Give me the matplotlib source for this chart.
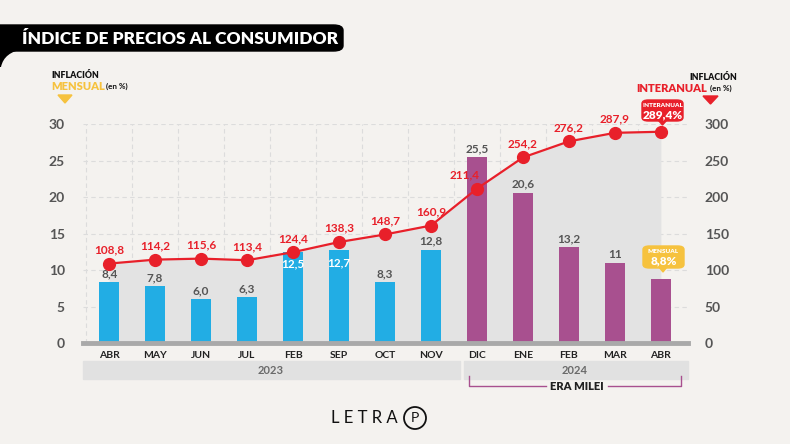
import matplotlib
matplotlib.use("Agg")
import matplotlib.pyplot as plt
from matplotlib.patches import FancyBboxPatch, Rectangle, PathPatch, Ellipse, Polygon
from matplotlib.path import Path
import numpy as np

plt.rcParams['font.family'] = ['Lato', 'DejaVu Sans']

months = ["ABR", "MAY", "JUN", "JUL", "FEB", "SEP", "OCT", "NOV", "DIC", "ENE", "FEB", "MAR", "ABR"]
mensual = [8.4, 7.8, 6.0, 6.3, 12.5, 12.7, 8.3, 12.8, 25.5, 20.6, 13.2, 11.0, 8.8]
mensual_labels = ["8,4", "7,8", "6,0", "6,3", "12,5", "12,7", "8,3", "12,8", "25,5", "20,6", "13,2", "11", ""]
interanual = [108.8, 114.2, 115.6, 113.4, 124.4, 138.3, 148.7, 160.9, 211.4, 254.2, 276.2, 287.9, 289.4]
interanual_labels = ["108,8", "114,2", "115,6", "113,4", "124,4", "138,3", "148,7", "160,9", "211,4", "254,2", "276,2", "287,9", ""]
era = ["pre"] * 8 + ["milei"] * 5
years = ["2023", "2024"]

BG = "#f4f2ef"
BLUE = "#22ade4"
PURPLE = "#a8508f"
RED = "#e8202a"
YELLOW = "#f6c23e"
GRAYTXT = "#555555"

W, H = 790, 444
fig = plt.figure(figsize=(7.9, 4.44), dpi=100, facecolor=BG)

def fx(x):
    return x / W

def fy(y):
    return 1 - y / H

ax = fig.add_axes([fx(83), fy(343), fx(688) - fx(83), fy(124) - fy(343)])
ax.set_facecolor("none")
x = np.arange(len(months))
ax.set_xlim(-0.57, len(months) - 1 + 0.59)
ax.set_ylim(0, 30)

ax2 = ax.twinx()
ax2.set_ylim(0, 300)
ax2.set_zorder(ax.get_zorder() + 1)
ax2.set_facecolor("none")

# fill under interanual line (drawn on ax, scaled to the left axis)
ax.fill_between(x, 0, np.array(interanual) / 10.0, color="#e3e3e3", zorder=1, lw=0)

# grid
for yv in range(5, 31, 5):
    ax.axhline(yv, color="#dcdcdc", lw=0.8, ls=(0, (4, 3)), zorder=0.5)
for xv in np.arange(-0.5, len(months) - 1, 1.0):
    ax.axvline(xv, color="#dcdcdc", lw=0.8, ls=(0, (4, 3)), zorder=0.5)

colors = [BLUE if e == "pre" else PURPLE for e in era]
ax.bar(x, mensual, width=0.44, color=colors, zorder=2)
ax.axhline(0, color="#a9a9a9", lw=3.5, zorder=3, clip_on=False)

for i, (v, lab) in enumerate(zip(mensual, mensual_labels)):
    if not lab:
        continue
    if lab in ("12,5", "12,7"):
        ax.annotate(lab, (i, v), xytext=(0, -5), textcoords="offset points",
                    ha="center", va="top", color="white", fontsize=8.5, fontweight="bold", zorder=5)
    else:
        ax.annotate(lab, (i, v), xytext=(0, 2), textcoords="offset points",
                    ha="center", va="bottom", color=GRAYTXT, fontsize=8.5, fontweight="bold", zorder=5)

ax2.plot(x, interanual, color=RED, lw=1.6, marker="o", ms=8.5, zorder=6, clip_on=False)
for i, (v, lab) in enumerate(zip(interanual, interanual_labels)):
    if not lab:
        continue
    dx = -9 if lab == "211,4" else 0
    ax2.annotate(lab, (i, v), xytext=(dx, 6), textcoords="offset points",
                 ha="center", va="bottom", color=RED, fontsize=8.5, fontweight="bold", zorder=7)

for a in (ax, ax2):
    for s in a.spines.values():
        s.set_visible(False)
    a.tick_params(length=0)

ax.set_xticks(x)
ax.set_xticklabels(months, fontsize=7.5, fontweight="bold", color="#222222")
ax.tick_params(axis="x", pad=6)
ax.set_yticks(range(0, 31, 5))
ax.set_yticklabels([str(v) for v in range(0, 31, 5)], fontsize=10, fontweight="bold", color=GRAYTXT)
ax.tick_params(axis="y", pad=13)
ax2.set_yticks(range(0, 301, 50))
ax2.set_yticklabels([str(v) for v in range(0, 301, 50)], fontsize=10, fontweight="bold", color=GRAYTXT)
ax2.tick_params(axis="y", pad=12)

# year bands
fig.patches.append(Rectangle((fx(83), fy(379)), fx(460) - fx(83), fy(361) - fy(379),
                             transform=fig.transFigure, color="#e1e1e1", zorder=0))
fig.patches.append(Rectangle((fx(464), fy(379)), fx(688) - fx(464), fy(361) - fy(379),
                             transform=fig.transFigure, color="#e1e1e1", zorder=0))
fig.text(fx(271), fy(370), years[0], ha="center", va="center", fontsize=8, fontweight="bold", color="#6a6a6a")
fig.text(fx(575), fy(370), years[1], ha="center", va="center", fontsize=8, fontweight="bold", color="#6a6a6a")

# ERA MILEI bracket
bc = "#a8508f"
fig.lines.append(plt.Line2D([fx(469), fx(469), fx(546)], [fy(376), fy(386), fy(386)],
                            transform=fig.transFigure, color=bc, lw=1))
fig.lines.append(plt.Line2D([fx(608), fx(681), fx(681)], [fy(386), fy(386), fy(376)],
                            transform=fig.transFigure, color=bc, lw=1))
fig.text(fx(577), fy(386), "ERA MILEI", ha="center", va="center", fontsize=8, fontweight="heavy", color="#222222")

# Title
fig.patches.append(FancyBboxPatch((fx(-20), fy(51)), fx(343) - fx(-20), fy(25) - fy(51),
                                  boxstyle="round,pad=0,rounding_size=0.012",
                                  transform=fig.transFigure, color="black", zorder=1))
verts = [(fx(0), fy(49)), (fx(24), fy(49)), (fx(4), fy(52)), (fx(1), fy(67)), (fx(0), fy(67)), (fx(0), fy(49))]
codes = [Path.MOVETO, Path.LINETO, Path.CURVE3, Path.CURVE3, Path.LINETO, Path.CLOSEPOLY]
fig.patches.append(PathPatch(Path(verts, codes), transform=fig.transFigure, color="black", zorder=1, lw=0))
fig.text(fx(22), fy(38.5), "ÍNDICE DE PRECIOS AL CONSUMIDOR", ha="left", va="center",
         fontsize=12.5, fontweight="heavy", color="white", zorder=2)

# Left header
fig.text(fx(51), fy(76), "INFLACIÓN", ha="left", va="center", fontsize=6.3, fontweight="heavy", color="#111111")
fig.text(fx(51), fy(86.5), "MENSUAL", ha="left", va="center", fontsize=8, fontweight="heavy", color=YELLOW)
fig.text(fx(106), fy(86.5), "(en %)", ha="left", va="center", fontsize=5.8, fontweight="bold", color="#111111")
fig.patches.append(Polygon([(fx(58), fy(95)), (fx(72), fy(95)), (fx(65), fy(103))],
                           transform=fig.transFigure, color=YELLOW, zorder=2))

# Right header
fig.text(fx(737), fy(77), "INFLACIÓN", ha="right", va="center", fontsize=6.3, fontweight="heavy", color="#111111")
fig.text(fx(707), fy(88), "INTERANUAL", ha="right", va="center", fontsize=8, fontweight="heavy", color=RED)
fig.text(fx(710), fy(88), "(en %)", ha="left", va="center", fontsize=5.8, fontweight="bold", color="#111111")
fig.patches.append(Polygon([(fx(703), fy(96)), (fx(718), fy(96)), (fx(710.5), fy(104))],
                           transform=fig.transFigure, color=RED, zorder=2))

# Interanual callout above last point
fig.patches.append(FancyBboxPatch((fx(642), fy(121)), fx(683) - fx(642), fy(100) - fy(121),
                                  boxstyle="round,pad=0,rounding_size=0.008",
                                  transform=fig.transFigure, color=RED, zorder=2))
fig.patches.append(Polygon([(fx(658), fy(120)), (fx(667), fy(120)), (fx(662.5), fy(125))],
                           transform=fig.transFigure, color=RED, zorder=2))
fig.text(fx(662.5), fy(105.5), "INTERANUAL", ha="center", va="center", fontsize=4.6,
         fontweight="heavy", color="white", zorder=3)
fig.text(fx(662.5), fy(114.5), "289,4%", ha="center", va="center", fontsize=8.5,
         fontweight="heavy", color="white", zorder=3)

# Mensual callout above last bar
fig.patches.append(FancyBboxPatch((fx(643), fy(268)), fx(684) - fx(643), fy(246) - fy(268),
                                  boxstyle="round,pad=0,rounding_size=0.008",
                                  transform=fig.transFigure, color=YELLOW, zorder=2))
fig.patches.append(Polygon([(fx(659), fy(267)), (fx(667), fy(267)), (fx(663), fy(272))],
                           transform=fig.transFigure, color=YELLOW, zorder=2))
fig.text(fx(663.5), fy(251.5), "MENSUAL", ha="center", va="center", fontsize=4.6,
         fontweight="heavy", color="white", zorder=3)
fig.text(fx(663.5), fy(261), "8,8%", ha="center", va="center", fontsize=8.5,
         fontweight="heavy", color="white", zorder=3)

# Logo
fig.text(fx(364), fy(418), "L E T R A", ha="center", va="center", fontsize=12, color="#111111")
fig.patches.append(Ellipse((fx(415), fy(418)), 22 / W, 22 / H, transform=fig.transFigure,
                           fill=False, ec="#111111", lw=1.3))
fig.text(fx(415), fy(418), "P", ha="center", va="center", fontsize=10, color="#111111")

fig.savefig("out.png", dpi=100, facecolor=BG)
